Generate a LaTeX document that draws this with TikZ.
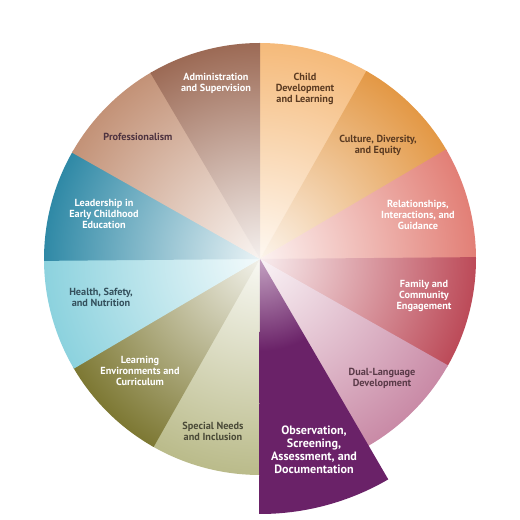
\documentclass[tikz,border=0pt]{standalone}
\usepackage{fontspec}
\setmainfont{PT Sans}
\usetikzlibrary{positioning}
\definecolor{childorange}{HTML}{F5BA7A}
\definecolor{cultureorange}{HTML}{E39845}
\definecolor{relpink}{HTML}{E27F76}
\definecolor{familyred}{HTML}{BC4A58}
\definecolor{dualmauve}{HTML}{C98AA6}
\definecolor{obspurple}{HTML}{6A2268}
\definecolor{obslight}{HTML}{C4A2C2}
\definecolor{specialolive}{HTML}{BABB8A}
\definecolor{learnolive}{HTML}{7D7833}
\definecolor{healthcyan}{HTML}{8CD2DE}
\definecolor{leadblue}{HTML}{2F89A6}
\definecolor{proftan}{HTML}{C39277}
\definecolor{adminbrown}{HTML}{9C6A55}
\definecolor{browntext}{HTML}{5B3B22}
\definecolor{mauvetext}{HTML}{5A3A48}
\definecolor{olivetext}{HTML}{4A4A38}
\definecolor{slatetext}{HTML}{34505C}
\definecolor{plumtext}{HTML}{4E3340}
\pgfdeclareradialshading{obsshade}{\pgfpoint{0bp}{0bp}}{color(0bp)=(obslight); color(9bp)=(obspurple); color(50bp)=(obspurple)}

\begin{document}
\begin{tikzpicture}[
    lbl/.style={font=\bfseries\fontsize{7.3}{7.9}\selectfont, align=center},
    dark_lbl/.style={lbl, text=#1},
    light_lbl/.style={lbl, text=white},
    big_lbl/.style={font=\bfseries\fontsize{8.6}{9.3}\selectfont, align=center, text=white},
    wedge/.style={inner color=#1!10!white, outer color=#1},
]
\useasboundingbox (-6.5,-6.525) rectangle (6.5,6.475);

% Child Development and Learning
\begin{scope}
    \clip (0,0) -- (90.5:5.4) arc[start angle=90.5, end angle=60, radius=5.4] -- cycle;
    \shade[wedge=childorange] (0,0) circle (5.4);
\end{scope}

% Culture, Diversity, and Equity
\begin{scope}
    \clip (0,0) -- (60.5:5.4) arc[start angle=60.5, end angle=30, radius=5.4] -- cycle;
    \shade[wedge=cultureorange] (0,0) circle (5.4);
\end{scope}

% Relationships, Interactions, and Guidance
\begin{scope}
    \clip (0,0) -- (30.5:5.4) arc[start angle=30.5, end angle=0, radius=5.4] -- cycle;
    \shade[wedge=relpink] (0,0) circle (5.4);
\end{scope}

% Family and Community Engagement
\begin{scope}
    \clip (0,0) -- (0.5:5.4) arc[start angle=0.5, end angle=-30, radius=5.4] -- cycle;
    \shade[wedge=familyred] (0,0) circle (5.4);
\end{scope}

% Dual-Language Development
\begin{scope}
    \clip (0,0) -- (-29.5:5.4) arc[start angle=-29.5, end angle=-60, radius=5.4] -- cycle;
    \shade[wedge=dualmauve] (0,0) circle (5.4);
\end{scope}

% Special Needs and Inclusion
\begin{scope}
    \clip (0,0) -- (-89.5:5.4) arc[start angle=-89.5, end angle=-120, radius=5.4] -- cycle;
    \shade[wedge=specialolive] (0,0) circle (5.4);
\end{scope}

% Learning Environments and Curriculum
\begin{scope}
    \clip (0,0) -- (-119.5:5.4) arc[start angle=-119.5, end angle=-150, radius=5.4] -- cycle;
    \shade[wedge=learnolive] (0,0) circle (5.4);
\end{scope}

% Health, Safety, and Nutrition
\begin{scope}
    \clip (0,0) -- (-149.5:5.4) arc[start angle=-149.5, end angle=-180, radius=5.4] -- cycle;
    \shade[wedge=healthcyan] (0,0) circle (5.4);
\end{scope}

% Leadership in Early Childhood Education
\begin{scope}
    \clip (0,0) -- (180.5:5.4) arc[start angle=180.5, end angle=150, radius=5.4] -- cycle;
    \shade[wedge=leadblue] (0,0) circle (5.4);
\end{scope}

% Professionalism
\begin{scope}
    \clip (0,0) -- (150.5:5.4) arc[start angle=150.5, end angle=120, radius=5.4] -- cycle;
    \shade[wedge=proftan] (0,0) circle (5.4);
\end{scope}

% Administration and Supervision
\begin{scope}
    \clip (0,0) -- (120.5:5.4) arc[start angle=120.5, end angle=90, radius=5.4] -- cycle;
    \shade[wedge=adminbrown] (0,0) circle (5.4);
\end{scope}

% Observation (highlighted, pulled out)
\begin{scope}
    \clip (0,0) -- (-59.8:6.375) arc[start angle=-59.8, end angle=-90.2, radius=6.375] -- cycle;
    \shade[shading=obsshade] (0,0) circle (6.375);
\end{scope}

% Labels
\node[dark_lbl=browntext] (child) at (1.125,4.25) {Child\\Development\\and Learning};
\node[dark_lbl=browntext] (culture) at (2.95,2.85) {Culture, Diversity,\\and Equity};
\node[light_lbl] (relations) at (3.95,1.1) {Relationships,\\Interactions, and\\Guidance};
\node[light_lbl] (family) at (4.1,-0.925) {Family and\\Community\\Engagement};
\node[dark_lbl=mauvetext] (dual) at (3.05,-2.975) {Dual-Language\\Development};
\node[big_lbl] (obs) at (1.35,-4.775) {Observation,\\Screening,\\Assessment, and\\Documentation};
\node[dark_lbl=olivetext] (special) at (-1.175,-4.3) {Special Needs\\and Inclusion};
\node[light_lbl] (learning) at (-3.0,-2.8) {Learning\\Environments and\\Curriculum};
\node[dark_lbl=slatetext] (health) at (-3.975,-0.95) {Health, Safety,\\and Nutrition};
\node[light_lbl] (leader) at (-3.9,1.125) {Leadership in\\Early Childhood\\Education};
\node[dark_lbl=plumtext] (prof) at (-3.05,3.05) {Professionalism};
\node[light_lbl] (admin) at (-1.1,4.4) {Administration\\and Supervision};

\end{tikzpicture}
\end{document}
